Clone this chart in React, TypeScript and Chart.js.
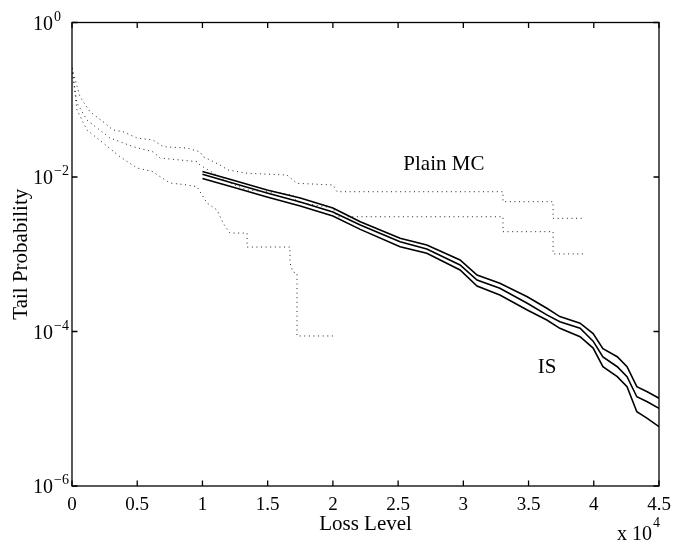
import React, { useEffect, useRef } from "react";
import { Chart, registerables } from "chart.js";

Chart.register(...registerables);

// ---- axis ticks ----
const xTicks = [0, 5000, 10000, 15000, 20000, 25000, 30000, 35000, 40000, 45000];
const xTickLabels = ["0", "0.5", "1", "1.5", "2", "2.5", "3", "3.5", "4", "4.5"];
const yTicks = [1, 1e-2, 1e-4, 1e-6];
const yTickExps = ["0", "\u22122", "\u22124", "\u22126"];

// ---- IS estimate with confidence bounds (solid) ----
const isX = [10000, 12300, 14950, 17500, 20000, 22100, 25150, 27200, 29750, 31050, 32800, 34900, 36400, 37400, 38950, 39950, 40700, 41800, 42550, 43300, 44100, 45000];
const isUpper = [0.01178, 0.00914, 0.00679, 0.00535, 0.00397, 0.00264, 0.00161, 0.00132, 0.000843, 0.000539, 0.000421, 0.000282, 0.0002, 0.000156, 0.000128, 9.4e-5, 6.0e-5, 4.72e-5, 3.5e-5, 1.93e-5, 1.66e-5, 1.37e-5];
const isMid = [0.01084, 0.00836, 0.00621, 0.00474, 0.00352, 0.00239, 0.00145, 0.00117, 0.000726, 0.000464, 0.000362, 0.000232, 0.000164, 0.000134, 0.00011, 7.5e-5, 4.7e-5, 3.5e-5, 2.6e-5, 1.43e-5, 1.23e-5, 1.01e-5];
const isLower = [0.00957, 0.00743, 0.00551, 0.00421, 0.00313, 0.0021, 0.00125, 0.00103, 0.000625, 0.000388, 0.000297, 0.00019, 0.000141, 0.00011, 8.57e-5, 6.1e-5, 3.5e-5, 2.6e-5, 1.93e-5, 9.16e-6, 7.52e-6, 5.86e-6];

// ---- Plain MC estimate with confidence bounds (dotted) ----
const mcUpperX = [0, 610, 1380, 2380, 3140, 3910, 4980, 6210, 6980, 8820, 9810, 10040, 10580, 11350, 11960, 13420, 16480, 17250, 20010, 20320, 33040, 33040, 36880, 36880, 39330];
const mcUpperY = [0.257, 0.1095, 0.07, 0.052, 0.0406, 0.0386, 0.032, 0.0301, 0.0247, 0.0237, 0.0212, 0.0183, 0.0166, 0.0143, 0.0123, 0.0112, 0.0106, 0.00829, 0.00788, 0.00645, 0.00645, 0.00479, 0.00479, 0.00292, 0.00292];
const mcEstX = [0, 380, 1150, 1920, 2910, 3680, 4680, 6210, 6750, 8280, 9580, 9810, 10810, 12110, 13420, 15950, 16940, 17250, 20010, 20320, 33040, 33040, 36880, 36880, 39330];
const mcEstY = [0.257, 0.0908, 0.0547, 0.0431, 0.032, 0.0286, 0.0247, 0.0212, 0.0176, 0.0166, 0.0158, 0.0143, 0.0113, 0.00836, 0.00679, 0.00621, 0.00585, 0.00474, 0.00397, 0.00306, 0.00306, 0.00196, 0.00196, 0.00101, 0.00101];
const mcLowerX = [0, 380, 1150, 2380, 3680, 4980, 6210, 6750, 7510, 8820, 9580, 9810, 10350, 11120, 11580, 12110, 13420, 13420, 16710, 16710, 16940, 17250, 17250, 20010];
const mcLowerY = [0.257, 0.0737, 0.0406, 0.0276, 0.0183, 0.0131, 0.0117, 0.0101, 0.00836, 0.00788, 0.00748, 0.00645, 0.00461, 0.00374, 0.00254, 0.00188, 0.00188, 0.00124, 0.00124, 0.000771, 0.000589, 0.000571, 8.75e-5, 8.75e-5];

// ---- text annotations (anchored in data coordinates) ----
const annTexts = ["Plain MC", "IS"];
const annX = [25400, 35700];
const annY = [0.0123, 2.88e-5];

const SERIF = '"Liberation Serif", "Times New Roman", serif';

const pts = (xs: number[], ys: number[]) => xs.map((x, i) => ({ x, y: ys[i] }));

const axesPlugin = {
  id: "matlabAxes",
  afterDraw(chart: any) {
    const { ctx, chartArea: a, scales } = chart;
    const xs = scales.x;
    const ys = scales.y;
    ctx.save();
    ctx.strokeStyle = "#000";
    ctx.lineWidth = 1.3;
    ctx.strokeRect(a.left, a.top, a.right - a.left, a.bottom - a.top);
    const tl = 5.5;
    ctx.beginPath();
    xTicks.forEach((v) => {
      const px = xs.getPixelForValue(v);
      ctx.moveTo(px, a.bottom);
      ctx.lineTo(px, a.bottom - tl);
      ctx.moveTo(px, a.top);
      ctx.lineTo(px, a.top + tl);
    });
    yTicks.forEach((v) => {
      const py = ys.getPixelForValue(v);
      ctx.moveTo(a.left, py);
      ctx.lineTo(a.left + tl, py);
      ctx.moveTo(a.right, py);
      ctx.lineTo(a.right - tl, py);
    });
    ctx.stroke();

    ctx.fillStyle = "#000";
    ctx.textBaseline = "alphabetic";
    // x tick labels
    ctx.font = `19px ${SERIF}`;
    ctx.textAlign = "center";
    xTicks.forEach((v, i) => {
      ctx.fillText(xTickLabels[i], xs.getPixelForValue(v), a.bottom + 23.5);
    });
    // y tick labels 10^n
    yTicks.forEach((v, i) => {
      const py = ys.getPixelForValue(v);
      ctx.font = `20px ${SERIF}`;
      ctx.textAlign = "right";
      ctx.fillText("10", a.left - 19, py + 7);
      ctx.font = `14px ${SERIF}`;
      ctx.textAlign = "left";
      ctx.fillText(yTickExps[i], a.left - 18, py - 2);
    });
    // x axis title
    ctx.font = `21px ${SERIF}`;
    ctx.textAlign = "center";
    ctx.fillText("Loss Level", (a.left + a.right) / 2, a.bottom + 43.5);
    // exponent marker
    ctx.font = `20px ${SERIF}`;
    ctx.textAlign = "right";
    ctx.fillText("x 10", a.right - 7, a.bottom + 54);
    ctx.font = `14px ${SERIF}`;
    ctx.textAlign = "left";
    ctx.fillText("4", a.right - 6, a.bottom + 40.5);
    // y axis title
    ctx.save();
    ctx.translate(27, (a.top + a.bottom) / 2);
    ctx.rotate(-Math.PI / 2);
    ctx.font = `21px ${SERIF}`;
    ctx.textAlign = "center";
    ctx.fillText("Tail Probability", 0, 0);
    ctx.restore();
    // annotations
    ctx.font = `21px ${SERIF}`;
    ctx.textAlign = "left";
    annTexts.forEach((t, i) => {
      ctx.fillText(t, xs.getPixelForValue(annX[i]), ys.getPixelForValue(annY[i]));
    });
    ctx.restore();
  },
};

export default function App() {
  const ref = useRef<HTMLCanvasElement | null>(null);
  useEffect(() => {
    if (!ref.current) return;
    const dotted = {
      borderColor: "#222",
      borderWidth: 1,
      borderDash: [1, 3.6],
      pointRadius: 0,
      fill: false,
      tension: 0,
    };
    const solid = {
      borderColor: "#000",
      borderWidth: 1.6,
      pointRadius: 0,
      fill: false,
      tension: 0,
    };
    const chart = new Chart(ref.current, {
      type: "line",
      data: {
        datasets: [
          { label: "MC upper", data: pts(mcUpperX, mcUpperY), ...dotted },
          { label: "MC estimate", data: pts(mcEstX, mcEstY), ...dotted },
          { label: "MC lower", data: pts(mcLowerX, mcLowerY), ...dotted },
          { label: "IS upper", data: pts(isX, isUpper), ...solid },
          { label: "IS estimate", data: pts(isX, isMid), ...solid },
          { label: "IS lower", data: pts(isX, isLower), ...solid },
        ],
      },
      options: {
        animation: false,
        responsive: false,
        maintainAspectRatio: false,
        layout: { padding: { left: 72, right: 14, top: 22.5, bottom: 58 } },
        plugins: { legend: { display: false }, tooltip: { enabled: false }, title: { display: false } },
        scales: {
          x: { type: "linear", min: 0, max: 45000, display: false },
          y: { type: "logarithmic", min: 1e-6, max: 1, display: false },
        },
      },
      plugins: [axesPlugin],
    });
    return () => chart.destroy();
  }, []);
  return (
    <div style={{ position: "fixed", left: 0, top: 0, width: 673, height: 544, background: "#fff" }}>
      <canvas ref={ref} width={673} height={544} style={{ display: "block", width: 673, height: 544 }} />
    </div>
  );
}
